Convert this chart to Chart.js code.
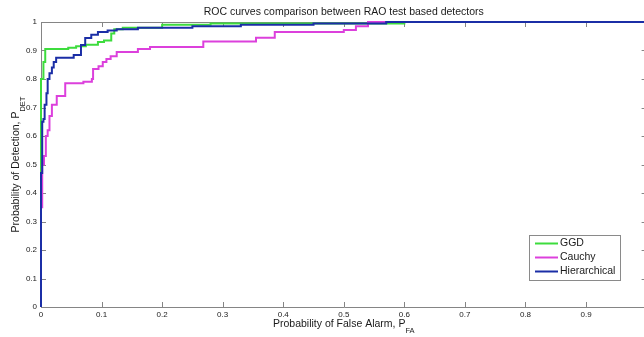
<!DOCTYPE html>
<html>
<head>
<meta charset="utf-8">
<script src="https://cdn.jsdelivr.net/npm/chart.js@4/dist/chart.umd.min.js"></script>
<style>
  html, body { margin: 0; padding: 0; background: #fff; overflow: hidden; }
  #wrap { position: relative; width: 660px; height: 337px; }
</style>
</head>
<body>
<div id="wrap"><canvas id="roc"></canvas></div>
<script>
// Data (false alarm prob, detection prob)
var ggdFa = [0, 0, 0.004, 0.007, 0.045, 0.058, 0.074, 0.094, 0.104, 0.116, 0.121, 0.135, 0.2, 0.28, 0.6, 1];
var ggdPd = [0, 0.8, 0.86, 0.905, 0.91, 0.915, 0.92, 0.93, 0.935, 0.96, 0.975, 0.98, 0.99, 0.995, 1, 1];

var cauchyFa = [0, 0, 0.002, 0.005, 0.008, 0.011, 0.014, 0.018, 0.026, 0.04, 0.07, 0.084, 0.086, 0.095, 0.102, 0.108, 0.115, 0.125, 0.16, 0.18, 0.268, 0.355, 0.386, 0.5, 0.52, 0.54, 1];
var cauchyPd = [0, 0.35, 0.5, 0.53, 0.6, 0.62, 0.67, 0.71, 0.74, 0.785, 0.79, 0.8, 0.835, 0.845, 0.86, 0.87, 0.88, 0.895, 0.905, 0.912, 0.932, 0.945, 0.965, 0.972, 0.985, 1, 1];

var hierFa = [0, 0, 0.002, 0.004, 0.006, 0.009, 0.011, 0.014, 0.018, 0.021, 0.025, 0.054, 0.066, 0.073, 0.083, 0.094, 0.11, 0.125, 0.16, 0.25, 0.33, 0.45, 0.57, 1];
var hierPd = [0, 0.47, 0.65, 0.66, 0.71, 0.75, 0.8, 0.82, 0.84, 0.86, 0.875, 0.884, 0.919, 0.944, 0.955, 0.965, 0.97, 0.975, 0.98, 0.985, 0.99, 0.995, 1, 1];

var seriesNames = ['GGD', 'Cauchy', 'Hierarchical'];
var seriesColors = ['#3ddc3d', '#dc40dc', '#1b2ea6'];

var xTickLabels = ['0', '0.1', '0.2', '0.3', '0.4', '0.5', '0.6', '0.7', '0.8', '0.9', '1'];
var yTickLabels = ['0', '0.1', '0.2', '0.3', '0.4', '0.5', '0.6', '0.7', '0.8', '0.9', '1'];

var titleText = 'ROC curves comparison between RAO test based detectors';

function toPoints(xs, ys) {
  return xs.map(function(x, i) { return { x: x, y: ys[i] }; });
}

var axisGray = '#858585';
var fontName = '"Liberation Sans", Arial, sans-serif';

// box, inward ticks, titles, legend (matlab look)
var matlabDecor = {
  id: 'matlabDecor',
  beforeDatasetsDraw: function(chart) {
    var ctx = chart.ctx, a = chart.chartArea;
    var xs = chart.scales.x, ys = chart.scales.y;
    ctx.save();
    ctx.strokeStyle = axisGray;
    ctx.lineWidth = 1;
    ctx.beginPath();
    ctx.rect(a.left + 0.5, a.top + 0.5, a.right - a.left, a.bottom - a.top);
    ctx.stroke();
    ctx.beginPath();
    xs.ticks.forEach(function(t) {
      var px = Math.round(xs.getPixelForValue(t.value)) + 0.5;
      ctx.moveTo(px, a.bottom); ctx.lineTo(px, a.bottom - 5);
      ctx.moveTo(px, a.top); ctx.lineTo(px, a.top + 5);
    });
    ys.ticks.forEach(function(t) {
      var py = Math.round(ys.getPixelForValue(t.value)) + 0.5;
      ctx.moveTo(a.left, py); ctx.lineTo(a.left + 5, py);
      ctx.moveTo(a.right, py); ctx.lineTo(a.right - 5, py);
    });
    ctx.stroke();
    ctx.restore();
  },
  afterDraw: function(chart) {
    var ctx = chart.ctx, a = chart.chartArea;
    var cx = (a.left + a.right) / 2, cy = (a.top + a.bottom) / 2;
    ctx.save();
    ctx.fillStyle = '#1a1a1a';
    ctx.textBaseline = 'alphabetic';

    // title
    ctx.font = '10.5px ' + fontName;
    ctx.textAlign = 'center';
    ctx.fillText(titleText, cx, 15);

    // x axis title with subscript
    var main = 'Probability of False Alarm, P', sub = 'FA';
    ctx.font = '10.5px ' + fontName;
    var w1 = ctx.measureText(main).width;
    ctx.font = '7.5px ' + fontName;
    var w2 = ctx.measureText(sub).width;
    var sx = cx - (w1 + w2) / 2;
    ctx.textAlign = 'left';
    ctx.font = '10.5px ' + fontName;
    ctx.fillText(main, sx, 327);
    ctx.font = '7.5px ' + fontName;
    ctx.fillText(sub, sx + w1, 333);

    // y axis title with subscript, rotated
    ctx.translate(19, cy);
    ctx.rotate(-Math.PI / 2);
    main = 'Probability of Detection, P'; sub = 'DET';
    ctx.font = '10.5px ' + fontName;
    w1 = ctx.measureText(main).width;
    ctx.font = '7.5px ' + fontName;
    w2 = ctx.measureText(sub).width;
    sx = -(w1 + w2) / 2;
    ctx.font = '10.5px ' + fontName;
    ctx.fillText(main, sx, 0);
    ctx.font = '7.5px ' + fontName;
    ctx.fillText(sub, sx + w1, 6);
    ctx.setTransform(1, 0, 0, 1, 0, 0);

    // legend box
    var lx = 529, ly = 235, lw = 91, lh = 45;
    ctx.fillStyle = '#fff';
    ctx.fillRect(lx, ly, lw, lh);
    ctx.strokeStyle = '#8a8a8a';
    ctx.lineWidth = 1;
    ctx.strokeRect(lx + 0.5, ly + 0.5, lw, lh);
    ctx.font = '10.5px ' + fontName;
    ctx.textBaseline = 'middle';
    ctx.textAlign = 'left';
    chart.data.datasets.forEach(function(ds, i) {
      var ry = ly + 8.5 + i * 14;
      ctx.strokeStyle = ds.borderColor;
      ctx.lineWidth = 2;
      ctx.beginPath();
      ctx.moveTo(lx + 6, ry); ctx.lineTo(lx + 29, ry);
      ctx.stroke();
      ctx.fillStyle = '#1a1a1a';
      ctx.fillText(ds.label, lx + 31, ry);
    });
    ctx.restore();
  }
};

var datasets = [
  toPoints(ggdFa, ggdPd),
  toPoints(cauchyFa, cauchyPd),
  toPoints(hierFa, hierPd)
].map(function(pts, i) {
  return {
    label: seriesNames[i],
    data: pts,
    borderColor: seriesColors[i],
    backgroundColor: seriesColors[i],
    borderWidth: 2,
    pointRadius: 0,
    stepped: 'before',
    fill: false,
    clip: 4,
    order: 2 - i
  };
});

new Chart(document.getElementById('roc'), {
  type: 'line',
  data: { datasets: datasets },
  options: {
    responsive: true,
    maintainAspectRatio: false,
    animation: false,
    layout: { padding: { top: 22, right: 13.4, left: 0, bottom: 0 } },
    plugins: {
      legend: { display: false },
      title: { display: false },
      tooltip: { enabled: false }
    },
    scales: {
      x: {
        type: 'linear',
        min: 0,
        max: 1,
        grid: { display: false, drawTicks: false },
        border: { display: false },
        afterFit: function(s) { s.height = 30; },
        ticks: {
          stepSize: 0.1,
          padding: 3,
          maxRotation: 0,
          autoSkip: false,
          color: '#1a1a1a',
          font: { family: fontName, size: 8 },
          callback: function(v, i) { return xTickLabels[i]; }
        }
      },
      y: {
        type: 'linear',
        min: 0,
        max: 1,
        grid: { display: false, drawTicks: false },
        border: { display: false },
        afterFit: function(s) { s.width = 41; },
        ticks: {
          stepSize: 0.1,
          padding: 4,
          autoSkip: false,
          color: '#1a1a1a',
          font: { family: fontName, size: 8 },
          callback: function(v, i) { return yTickLabels[i]; }
        }
      }
    }
  },
  plugins: [matlabDecor]
});
</script>
</body>
</html>
